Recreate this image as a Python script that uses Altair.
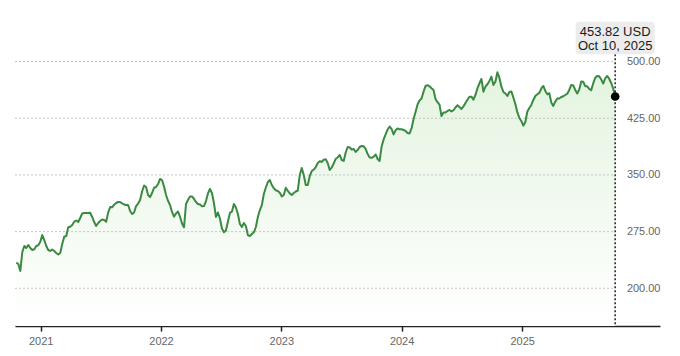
import altair as alt
import pandas as pd

# ---- data ----
prices_a = [233.9, 232.2, 222.9, 248.0, 256.0, 253.3, 257.3, 253.3, 250.7, 251.6,
            256.0, 256.9, 261.7, 270.5, 263.9, 256.0, 250.7, 249.4, 251.4, 249.4,
            246.7, 244.7, 246.7, 258.6, 268.3, 269.2, 280.7, 281.5, 283.8, 288.1,
            289.7, 287.7, 293.0, 299.0, 299.7, 299.7, 299.7, 300.1, 294.4, 287.7,
            282.5, 286.4, 289.1, 291.1, 290.4, 288.1, 300.1, 307.6, 307.2, 310.6,
            312.9, 314.2, 314.2, 312.5, 310.9, 310.2, 310.2, 302.3, 298.3, 300.3]
prices_b = [308.9, 312.2, 316.9, 328.1, 336.0, 334.1, 323.5, 320.8, 326.1, 333.0,
            334.1, 338.0, 344.7, 343.3, 334.7, 323.5, 315.8, 310.2, 301.0, 294.8,
            299.0, 301.6, 294.8, 285.8, 280.7, 311.6, 316.9, 321.5, 321.5, 318.5,
            314.2, 311.6, 310.8, 308.5, 308.9, 315.5, 325.5, 331.4, 326.1, 312.9,
            294.4, 300.3, 292.4, 279.1, 274.1, 276.5, 288.4, 299.7, 301.4, 311.6,
            306.9, 298.3, 285.1, 281.1, 286.4, 282.5, 270.5, 269.2, 271.9, 274.1]
prices_c = [281.1, 294.4, 303.6, 310.2, 324.8, 333.4, 340.7, 343.3, 336.7, 332.4,
            329.7, 328.8, 326.4, 321.5, 323.5, 333.0, 328.8, 325.5, 323.5, 326.1,
            328.1, 329.4, 350.0, 359.2, 350.0, 336.7, 336.7, 348.6, 355.2, 357.2,
            360.5, 365.8, 368.1, 367.2, 370.1, 370.7, 365.8, 356.6, 359.6, 365.2,
            371.4, 373.1, 376.4, 369.8, 368.5, 379.7, 387.0, 386.4, 383.7, 384.4,
            380.5, 383.0, 387.0, 388.3, 387.9, 384.4, 377.7, 373.1, 372.7, 374.2]
prices_d = [377.1, 371.1, 368.5, 387.7, 397.0, 403.6, 410.2, 414.1, 410.8, 403.6,
            409.1, 411.5, 410.4, 410.4, 409.5, 408.2, 405.5, 404.9, 411.5, 424.1,
            433.3, 443.3, 448.6, 451.2, 460.2, 467.7, 468.8, 467.3, 464.7, 462.5,
            450.6, 446.3, 443.0, 428.0, 432.7, 432.7, 434.7, 436.0, 434.0, 435.6,
            439.3, 442.2, 440.0, 437.3, 440.6, 445.3, 449.5, 453.4, 453.6, 449.6,
            455.8, 464.7, 471.3, 477.0, 460.2, 466.8, 470.0, 474.4, 480.1, 469.1]
prices_e = [473.4, 485.9, 478.7, 466.8, 459.8, 457.8, 454.5, 459.8, 460.5, 452.5,
            443.9, 432.7, 425.4, 421.4, 415.2, 420.1, 434.0, 438.6, 442.6, 449.2,
            454.5, 456.8, 458.5, 464.4, 467.7, 461.1, 456.8, 458.1, 446.0, 441.3,
            447.0, 451.2, 451.2, 453.2, 454.1, 455.8, 457.5, 462.5, 469.1, 468.4,
            462.5, 457.8, 463.1, 473.7, 473.4, 467.5, 467.3, 463.8, 462.1, 471.1,
            478.6, 481.0, 480.6, 476.4, 470.9, 477.7, 481.0, 477.3, 471.7, 464.4,
            453.82]

start_date = "2020-10-19"
end_date = "2025-10-10"
currency = "USD"
grid_values = [200, 275, 350, 425, 500]
year_ticks = [2021, 2022, 2023, 2024, 2025]
y_domain = [150, 550]

prices = prices_a + prices_b + prices_c + prices_d + prices_e
dates = pd.date_range(start_date, end_date, periods=len(prices))
df = pd.DataFrame({"date": dates, "price": prices})

last_date = dates[-1]
last_df = pd.DataFrame({
    "date": [last_date],
    "price": [prices[-1]],
    "label1": [f"{prices[-1]:.2f} {currency}"],
    "label2": [f"{last_date:%b} {last_date.day}, {last_date.year}"],
})
grid_df = pd.DataFrame({
    "v": grid_values,
    "start": [pd.Timestamp("2020-10-15")] * len(grid_values),
    "end": [last_date] * len(grid_values),
})

FONT = "Liberation Sans"
GREEN = "#3b8a42"

x_scale = alt.Scale(domain=[alt.DateTime(year=2020, month=10, date=15),
                            alt.DateTime(year=2026, month=2, date=23)])
y_scale = alt.Scale(domain=y_domain, zero=False, nice=False)

x_axis = alt.Axis(
    values=[alt.DateTime(year=y, month=1, date=1) for y in year_ticks],
    format="%Y", title=None, grid=False,
    domainColor="#222", domainWidth=1.5,
    tickColor="#222", tickWidth=1.5, tickSize=5,
    labelColor="#666", labelFontSize=11, labelFont=FONT, labelPadding=4,
)
y_axis = alt.Axis(
    values=grid_values, format=".2f", orient="right", title=None,
    grid=False, domain=False, ticks=False, tickSize=0,
    labelAlign="right", labelPadding=0, labelColor="#666",
    labelFontSize=11, labelFont=FONT,
)

base = alt.Chart(df)

area = base.mark_area(
    color=alt.Gradient(
        gradient="linear",
        stops=[alt.GradientStop(color="#ffffff", offset=0),
               alt.GradientStop(color="#e4f4e0", offset=1)],
        x1=1, x2=1, y1=1, y2=0,
    )
).encode(
    x=alt.X("date:T", scale=x_scale, axis=x_axis),
    y=alt.Y("price:Q", scale=y_scale, axis=y_axis),
    y2=alt.datum(y_domain[0]),
)

grid = alt.Chart(grid_df).mark_rule(
    color="#c4c4c4", strokeDash=[2, 2], strokeWidth=1
).encode(
    x=alt.X("start:T", scale=x_scale),
    x2="end:T",
    y=alt.Y("v:Q", scale=y_scale),
)

line = base.mark_line(color=GREEN, strokeWidth=2, strokeJoin="round").encode(
    x=alt.X("date:T", scale=x_scale),
    y=alt.Y("price:Q", scale=y_scale),
)

marker_line = alt.Chart(last_df).mark_rule(
    color="#222", strokeDash=[2, 2], strokeWidth=1.5
).encode(
    x=alt.X("date:T", scale=x_scale),
    y=alt.value(30.5),
    y2=alt.value(302.3),
)

dot = alt.Chart(last_df).mark_point(
    filled=True, color="#000", size=75, opacity=1
).encode(
    x=alt.X("date:T", scale=x_scale),
    y=alt.Y("price:Q", scale=y_scale),
)

box = alt.Chart(last_df).mark_rect(
    color="#ececec", cornerRadius=3, xOffset=-39.5, x2Offset=39.5
).encode(
    x=alt.X("date:T", scale=x_scale),
    x2="date:T",
    y=alt.value(-2),
    y2=alt.value(30.5),
)

text1 = alt.Chart(last_df).mark_text(
    font=FONT, fontSize=13, color="#1a1a1a", align="center", baseline="alphabetic"
).encode(
    x=alt.X("date:T", scale=x_scale),
    y=alt.value(12),
    text="label1:N",
)
text2 = alt.Chart(last_df).mark_text(
    font=FONT, fontSize=13, color="#1a1a1a", align="center", baseline="alphabetic"
).encode(
    x=alt.X("date:T", scale=x_scale),
    y=alt.value(26.3),
    text="label2:N",
)

chart = alt.layer(area, grid, line, marker_line, dot, box, text1, text2).properties(
    width=645, height=302.3,
    autosize="none",
    padding={"left": 7, "top": 15.8, "right": 5, "bottom": 20},
    background="white",
).configure_view(stroke=None)

chart.save("out.html", embed_options={"renderer": "svg", "actions": False})
